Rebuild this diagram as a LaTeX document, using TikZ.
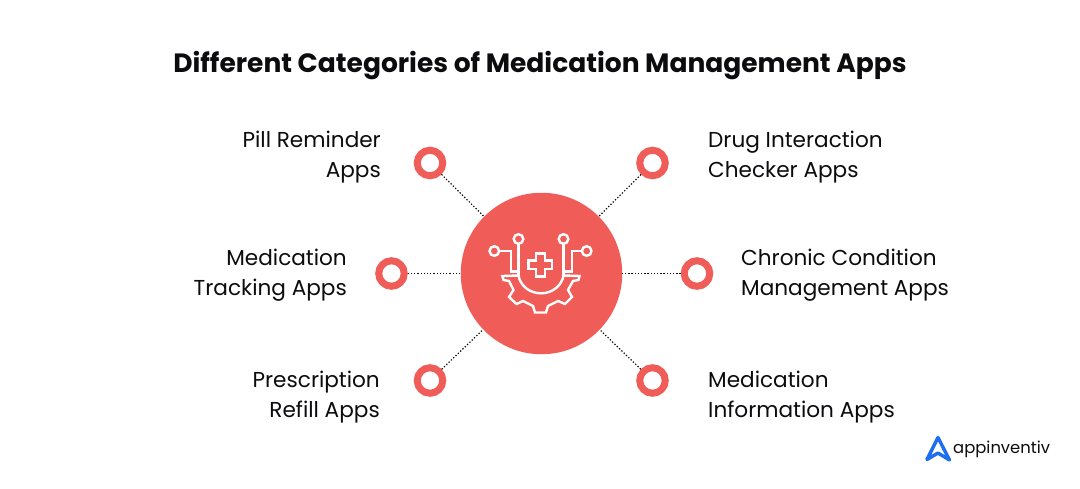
\documentclass[tikz,border=0pt]{standalone}
\usepackage{fontspec}
\setmainfont{Poppins}
\newfontfamily\logofont{Poppins}
\definecolor{coral}{HTML}{F05D58}
\definecolor{ink}{HTML}{0C0C0F}
\definecolor{logoblue}{HTML}{1D6FF2}
\tikzset{
  ring/.style={circle,draw=coral,line width=7pt,fill=white,minimum size=25.5pt,inner sep=0pt},
  hub/.style={circle,fill=coral,minimum size=161.5pt,inner sep=0pt},
  label/.style={font=\fontsize{21.6}{30}\selectfont,text=ink,inner sep=0pt},
  leftlabel/.style={label,anchor=east,align=right},
  rightlabel/.style={label,anchor=west,align=left},
  link/.style={draw=ink,line width=1.2pt,dash pattern=on 1.3pt off 1.9pt},
  glyph/.style={draw=white,line width=2.4pt,line join=miter,fill=none},
}
\begin{document}
\begin{tikzpicture}[x=1pt,y=-1pt]
\useasboundingbox (0,0) rectangle (1080,488);
\fill[white] (0,0) rectangle (1080,488);
\node[font=\fontsize{26.5}{32}\selectfont\bfseries,text=ink,inner sep=0pt] (title) at (540,66) {Different Categories of Medication Management Apps};
\node[hub] (hub) at (541.5,273.5) {};
\node[ring] (r1) at (430,163) {};
\node[ring] (r2) at (652.5,163) {};
\node[ring] (r3) at (391.5,273.5) {};
\node[ring] (r4) at (697,273.5) {};
\node[ring] (r5) at (430,380.5) {};
\node[ring] (r6) at (652.5,380.5) {};
\foreach \r in {r1,r2,r3,r4,r5,r6} \draw[link] (\r) -- (hub);
\node[leftlabel] (t1) at (381,157) {Pill Reminder\\Apps};
\node[rightlabel] (t2) at (708,157) {Drug Interaction\\Checker Apps};
\node[leftlabel] (t3) at (347,275) {Medication\\Tracking Apps};
\node[rightlabel] (t4) at (741,275) {Chronic Condition\\Management Apps};
\node[leftlabel] (t5) at (380,397) {Prescription\\Refill Apps};
\node[rightlabel] (t6) at (708,397) {Medication\\Information Apps};
% icon
\draw[glyph] (494.3,251) circle (4.8);
\draw[glyph] (518.5,239) circle (4.8);
\draw[glyph] (563.5,239) circle (4.8);
\draw[glyph] (586.7,251) circle (4.8);
\draw[glyph] (499,251) -- (511,251) -- (511,271.5) -- (518.5,271.5);
\draw[glyph] (582,251) -- (572,251) -- (572,271.5) -- (564,271.5);
\draw[glyph] (518.5,243.8) -- (518.5,276);
\draw[glyph] (563.5,243.8) -- (563.5,276);
\draw[glyph] (502.3,276) -- (503.5,280) -- (509,281) -- (513.5,290) -- (509,297) -- (516.5,304) -- (523,301) -- (533,306) -- (535,312.5) -- (546,312.5) -- (548,306) -- (558,301) -- (565,304) -- (572,297) -- (568,290) -- (573,281) -- (578.5,280) -- (579.5,276) -- (563.5,275.5) .. controls (562,285) and (553,293.3) .. (541,293.3) .. controls (529,293.3) and (520,285) .. (518.5,275.5) -- cycle;
\draw[glyph] (536,253.5) -- (545,253.5) -- (545,260.5) -- (552,260.5) -- (552,269) -- (545,269) -- (545,276.5) -- (536,276.5) -- (536,269) -- (528.5,269) -- (528.5,260.5) -- (536,260.5) -- cycle;
% logo
\draw[logoblue,line width=3.4pt,line join=round,line cap=round,fill=none] (927,459.5) -- (938,437.5) -- (949.5,460) -- (938,453) -- cycle;
\node[font=\logofont\fontsize{16.4}{20}\selectfont,text=ink,inner sep=0pt,anchor=base west] (logo) at (953,453) {appinventiv};
\end{tikzpicture}
\end{document}
